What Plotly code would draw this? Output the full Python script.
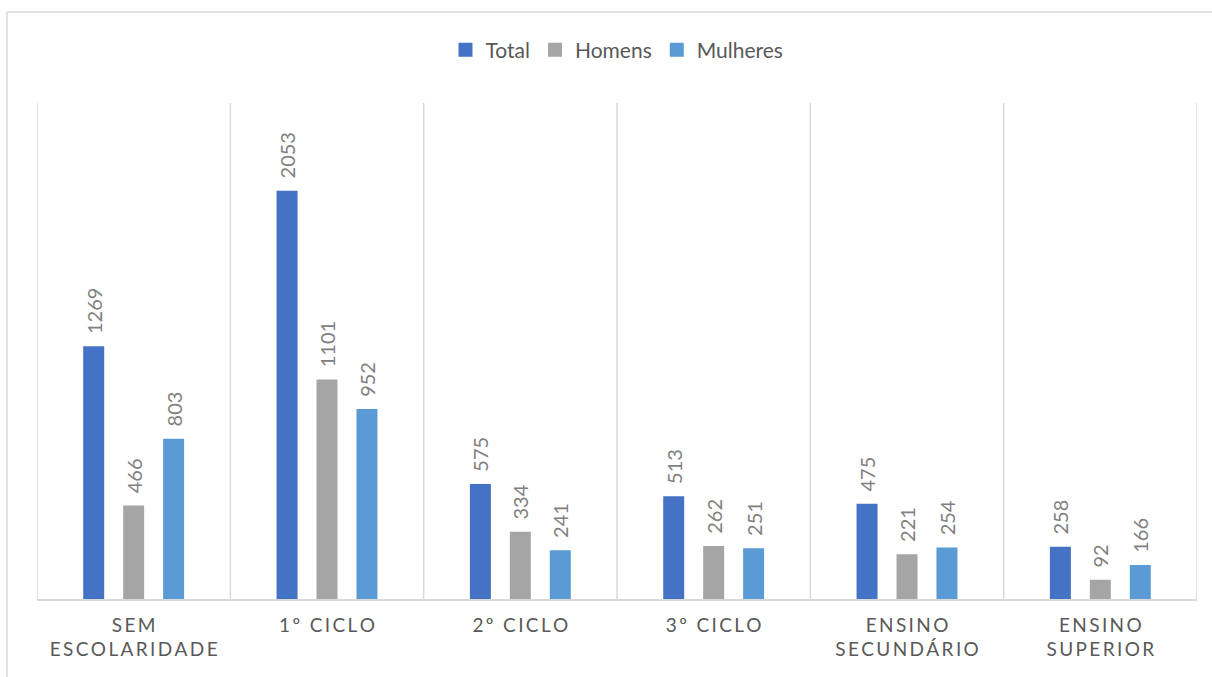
import plotly.graph_objects as go

# Education level categories (tick labels) and series values
categories = ["SEM ESCOLARIDADE", "1º CICLO", "2º CICLO", "3º CICLO",
              "ENSINO SECUNDÁRIO", "ENSINO SUPERIOR"]
tick_text = ["SEM<br>ESCOLARIDADE", "1º CICLO", "2º CICLO", "3º CICLO",
             "ENSINO<br>SECUNDÁRIO", "ENSINO<br>SUPERIOR"]
total = [1269, 2053, 575, 513, 475, 258]
homens = [466, 1101, 334, 262, 221, 92]
mulheres = [803, 952, 241, 251, 254, 166]

series = [("Total", total, "#4472C4"),
          ("Homens", homens, "#A5A5A5"),
          ("Mulheres", mulheres, "#5B9BD5")]

FONT = "Lato, Open Sans, sans-serif"
THIN = "\u2009"


def spaced(label):
    # widen tracking of the uppercase axis labels
    lines = label.split("<br>")
    return "<br>".join(THIN.join(list(line)) for line in lines)


fig = go.Figure()
for name, vals, color in series:
    fig.add_trace(go.Bar(
        name=name,
        x=categories,
        y=vals,
        marker=dict(color=color, line=dict(width=2, color=color)),
        text=vals,
        texttemplate="\u00a0\u00a0%{y}",
        textposition="outside",
        textangle=-90,
        constraintext="none",
        cliponaxis=False,
        textfont=dict(family=FONT, size=20, color="#808080"),
    ))

W, H = 1212, 677
ML, MR, MT, MB = 37, 15, 103, 78
pw, ph = W - ML - MR, H - MT - MB

shapes = []
# vertical separators between categories
for i in range(len(categories) + 1):
    shapes.append(dict(type="line", xref="x", yref="paper",
                       x0=i - 0.5, x1=i - 0.5, y0=0, y1=1,
                       line=dict(color="#D9D9D9", width=1.5), layer="below"))
# chart-area frame (top and left edges)
fx = (7 - ML) / pw
fy = 1 + (MT - 12) / ph
shapes.append(dict(type="line", xref="paper", yref="paper",
                   x0=fx, x1=(W - ML) / pw + 0.01, y0=fy, y1=fy,
                   line=dict(color="#D9D9D9", width=1.5)))
shapes.append(dict(type="line", xref="paper", yref="paper",
                   x0=fx, x1=fx, y0=fy, y1=-(MB + 5) / ph,
                   line=dict(color="#D9D9D9", width=1.5)))

fig.update_layout(
    width=W, height=H,
    margin=dict(l=ML, r=MR, t=MT, b=MB),
    paper_bgcolor="white", plot_bgcolor="white",
    barmode="group", bargap=0.38, bargroupgap=0.525,
    font=dict(family=FONT, color="#595959"),
    legend=dict(orientation="h", x=0.5, xanchor="center",
                y=1 + (MT - 50) / ph, yanchor="middle",
                font=dict(size=21, color="#595959"),
                itemwidth=30, traceorder="normal"),
    shapes=shapes,
    showlegend=True,
)
fig.update_xaxes(
    tickmode="array", tickvals=categories,
    ticktext=[spaced(t) for t in tick_text],
    tickfont=dict(family=FONT, size=19, color="#595959"),
    showgrid=False, showline=True, linecolor="#D9D9D9", linewidth=1.5,
    ticks="outside", ticklen=8, tickcolor="rgba(0,0,0,0)",
    range=[-0.5, len(categories) - 0.5],
)
fig.update_yaxes(range=[0, 2500], showgrid=False, showticklabels=False,
                 zeroline=False, showline=False)

fig.write_html("out.html")
